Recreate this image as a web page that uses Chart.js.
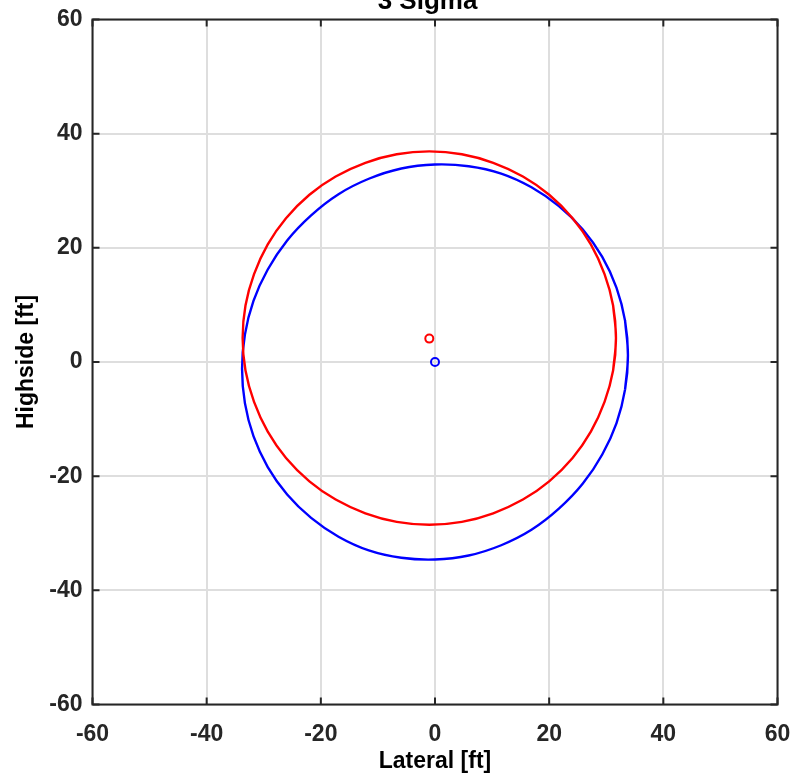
<!DOCTYPE html>
<html>
<head>
<meta charset="utf-8">
<script src="https://cdn.jsdelivr.net/npm/chart.js@4.4.1/dist/chart.umd.min.js"></script>
<style>
  body { margin: 0; background: #ffffff; }
  #wrap { width: 795px; height: 778px; position: relative; }
</style>
</head>
<body>
<div id="wrap"><canvas id="myChart"></canvas></div>
<script>
// ellipse outlines (every 10 degrees round the curve,
// first and last point repeated so the closed curve has no kink)
const redX = [31.2, 31.7, 31.2, 29.7, 27.3, 24.1, 20.0, 15.4, 10.2, 4.7, -1.0, -6.7, -12.2, -17.4, -22.0, -26.1, -29.3, -31.7, -33.2, -33.7,
  -33.2, -31.7, -29.3, -26.1, -22.0, -17.4, -12.2, -6.7, -1.0, 4.7, 10.2, 15.4, 20.0, 24.1, 27.3, 29.7, 31.2, 31.7, 31.2]
const redY = [-1.5, 4.2, 9.9, 15.4, 20.6, 25.2, 29.3, 32.5, 34.9, 36.4, 36.9, 36.4, 34.9, 32.5, 29.3, 25.2, 20.6, 15.4, 9.9, 4.2,
  -1.5, -7.0, -12.2, -16.8, -20.9, -24.1, -26.5, -28.0, -28.5, -28.0, -26.5, -24.1, -20.9, -16.8, -12.2, -7.0, -1.5, 4.2, 9.9]
const blueX = [33.3, 33.8, 33.3, 31.8, 29.3, 25.9, 21.7, 16.9, 11.6, 5.9, 0.0, -5.9, -11.6, -16.9, -21.7, -25.9, -29.3, -31.8, -33.3, -33.8,
  -33.3, -31.8, -29.3, -25.9, -21.7, -16.9, -11.6, -5.9, 0.0, 5.9, 11.6, 16.9, 21.7, 25.9, 29.3, 31.8, 33.3, 33.8, 33.3]
const blueY = [-4.8, 1.2, 7.2, 13.0, 18.4, 23.2, 27.3, 30.6, 33.0, 34.3, 34.6, 33.9, 32.1, 29.4, 25.7, 21.3, 16.2, 10.7, 4.8, -1.2,
  -7.2, -13.0, -18.4, -23.2, -27.3, -30.6, -33.0, -34.3, -34.6, -33.9, -32.1, -29.4, -25.7, -21.3, -16.2, -10.7, -4.8, 1.2, 7.2]
const redCenter = [-1.0, 4.1]
const blueCenter = [0.0, 0.0]
const tickValues = [-60, -40, -20, 0, 20, 40, 60]

const titulo = "3 Sigma"
const xLabel = "Lateral [ft]"
const yLabel = "Highside [ft]"

const ink = '#262626'
const fontFam = "'Liberation Sans', Arial, Helvetica, sans-serif"

function toPoints(xs, ys) {
    return xs.map((x, i) => ({ x: x, y: ys[i] }))
}

// MATLAB style box with inward ticks on all four sides + title
const boxPlugin = {
    id: 'boxPlugin',
    afterDraw(chart) {
        const ctx = chart.ctx
        const a = chart.chartArea
        const xs = chart.scales.x
        const ys = chart.scales.y
        const len = 7
        ctx.save()
        ctx.strokeStyle = ink
        ctx.lineWidth = 2
        ctx.beginPath()
        for (const v of tickValues) {
            const px = xs.getPixelForValue(v)
            ctx.moveTo(px, a.bottom); ctx.lineTo(px, a.bottom - len)
            ctx.moveTo(px, a.top); ctx.lineTo(px, a.top + len)
            const py = ys.getPixelForValue(v)
            ctx.moveTo(a.left, py); ctx.lineTo(a.left + len, py)
            ctx.moveTo(a.right, py); ctx.lineTo(a.right - len, py)
        }
        ctx.stroke()
        ctx.strokeRect(a.left, a.top, a.right - a.left, a.bottom - a.top)
        ctx.fillStyle = '#000000'
        ctx.font = "bold 26px " + fontFam
        ctx.textAlign = 'center'
        ctx.textBaseline = 'alphabetic'
        ctx.fillText(titulo, 427.5, 9)
        ctx.restore()
    }
}

const curva = (pts, color, ord) => ({ data: pts, borderColor: color, borderWidth: 2.4, pointRadius: 0, tension: 0.4, fill: false, order: ord })
const marca = (p, color, ord) => ({ data: [{ x: p[0], y: p[1] }], showLine: false, pointRadius: 4, borderWidth: 2, borderColor: color, backgroundColor: 'rgba(0,0,0,0)', order: ord })

const config = {
    type: 'line',
    data: {
        datasets: [
            curva(toPoints(redX, redY), '#ff0000', 0),
            curva(toPoints(blueX, blueY), '#0000ff', 1),
            marca(redCenter, '#ff0000', 0),
            marca(blueCenter, '#0000ff', 1)
        ]
    },
    options: {
        responsive: true,
        maintainAspectRatio: false,
        animation: false,
        layout: { padding: { top: 19.5, right: 17.5, left: 0, bottom: 0 } },
        plugins: { legend: { display: false }, tooltip: { enabled: false } },
        scales: {
            x: {
                type: 'linear', min: -60, max: 60,
                afterBuildTicks: s => { s.ticks = tickValues.map(v => ({ value: v })) },
                afterFit: s => { s.height = 73.5; s.paddingLeft = 0; s.paddingRight = 0 },
                grid: { color: '#dedede', lineWidth: 2, drawTicks: false },
                border: { display: false },
                ticks: { color: ink, padding: 16, maxRotation: 0, font: { family: fontFam, size: 23, weight: 'bold' } },
                title: { display: true, text: xLabel, color: '#000000', padding: { top: 0, bottom: 2.3 }, font: { family: fontFam, size: 23, weight: 'bold' } }
            },
            y: {
                type: 'linear', min: -60, max: 60,
                afterBuildTicks: s => { s.ticks = tickValues.map(v => ({ value: v })) },
                afterFit: s => { s.width = 92.5; s.paddingTop = 0; s.paddingBottom = 0 },
                grid: { color: '#dedede', lineWidth: 2, drawTicks: false },
                border: { display: false },
                ticks: { color: ink, padding: 10, font: { family: fontFam, size: 23, weight: 'bold' } },
                title: { display: true, text: yLabel, color: '#000000', padding: { top: 13, bottom: 0 }, font: { family: fontFam, size: 23, weight: 'bold' } }
            }
        }
    },
    plugins: [boxPlugin]
}

new Chart(document.getElementById('myChart'), config)
</script>
</body>
</html>
